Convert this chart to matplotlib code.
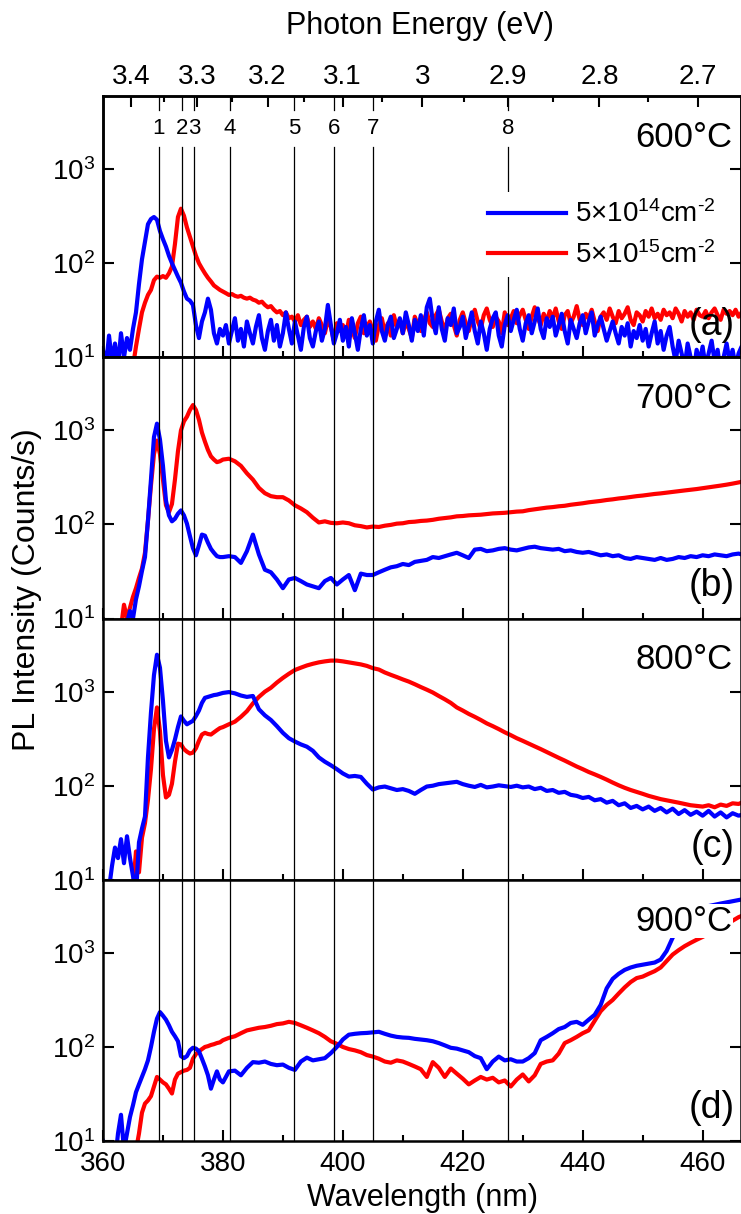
import numpy as np
import matplotlib.pyplot as plt
from matplotlib.ticker import FixedLocator, NullLocator, MultipleLocator
from matplotlib.transforms import blended_transform_factory

plt.rcParams['font.family'] = ['Liberation Sans', 'DejaVu Sans']
plt.rcParams['mathtext.fontset'] = 'custom'
plt.rcParams['mathtext.rm'] = 'Liberation Sans'
plt.rcParams['mathtext.it'] = 'Liberation Sans:italic'
plt.rcParams['mathtext.bf'] = 'Liberation Sans:bold'

HC = 1239.84  # eV nm

# wavelength sampling (nm): 0.5 nm for the noisy 600C scans,
# 0.5 nm below 380 nm and 1 nm above for the others
wl_a = np.arange(360.0, 467.01, 0.5)
wl = np.concatenate([np.arange(360.0, 380.0, 0.5), np.arange(380.0, 467.01, 1.0)])

# ---- 600 C ----
low_600 = [
    12, 8, 17, 9, 14, 8, 18, 10, 16, 12,
    20, 30, 60, 110, 170, 260, 295, 310, 290, 220,
    180, 150, 120, 100, 85, 72, 62, 50, 42, 40,
    36, 22, 16, 24, 30, 42, 32, 18, 14, 20,
    17, 22, 14, 19, 26, 15, 20, 13, 24, 18,
    14, 21, 28, 16, 12, 19, 25, 15, 22, 13,
    18, 30, 20, 14, 24, 17, 12, 21, 27, 16,
    13, 19, 24, 15, 20, 36, 22, 14, 18, 25,
    15, 21, 13, 26, 18, 12, 20, 28, 17, 22,
    14, 24, 32, 19, 15, 22, 27, 16, 20, 26,
    18, 30, 22, 15, 25, 19, 28, 17, 34, 42,
    24, 18, 34, 20, 15, 26, 22, 33, 18, 21,
    27, 16, 22, 30, 19, 14, 24, 18, 12, 20,
    26, 30, 17, 13, 22, 28, 19, 25, 32, 20,
    15, 23, 28, 18, 24, 33, 20, 16, 26, 21,
    27, 17, 22, 29, 19, 14, 25, 20, 16, 23,
    28, 18, 24, 30, 17, 22, 27, 20, 15, 19,
    24, 18, 14, 21, 17, 23, 13, 19, 16, 22,
    15, 20, 13, 18, 24, 14, 19, 12, 17, 21,
    13, 9, 15, 11, 8, 14, 10, 7, 12, 9,
    13, 8, 11, 15, 9, 12, 7, 10, 14, 9,
    12, 8, 11, 13, 10]
high_600 = [
    6, 6, 6, 6, 6, 6, 6, 6, 6, 6,
    8, 13, 20, 30, 38, 46, 52, 66, 72, 70,
    73, 70, 78, 92, 160, 310, 380, 320, 240, 190,
    150, 120, 100, 88, 78, 70, 64, 58, 55, 52,
    50, 48, 46, 47, 45, 44, 45, 43, 42, 43,
    41, 40, 38, 39, 36, 34, 35, 32, 30, 31,
    28, 30, 26, 27, 24, 28, 22, 25, 27, 21,
    24, 20, 26, 22, 18, 25, 21, 15, 23, 19,
    22, 17, 25, 20, 16, 23, 27, 18, 21, 24,
    19, 15, 22, 26, 18, 23, 17, 28, 21, 25,
    18, 24, 20, 16, 27, 22, 19, 25, 30, 23,
    21, 28, 32, 24, 19, 26, 29, 22, 17, 25,
    30, 23, 19, 26, 32, 24, 20, 28, 33, 25,
    21, 27, 24, 18, 30, 22, 26, 31, 23, 28,
    32, 25, 20, 27, 34, 26, 22, 29, 24, 31,
    26, 33, 24, 20, 28, 31, 23, 27, 35, 25,
    22, 29, 26, 32, 24, 19, 27, 30, 25, 33,
    27, 23, 31, 26, 29, 34, 25, 22, 30, 28,
    24, 31, 27, 33, 26, 29, 25, 32, 28, 30,
    26, 33, 29, 24, 31, 27, 30, 25, 32, 28,
    27, 31, 26, 30, 33, 28, 25, 32, 29, 31,
    28, 32, 27, 30, 33]

# ---- 700 C ----
low_700 = [
    6, 6, 6, 6, 6, 6, 6, 6, 9, 12,
    10, 16, 22, 32, 45, 110, 300, 850, 1180, 800,
    420, 180, 125, 108, 115, 130, 141, 125, 102, 75,
    56, 47, 60, 78, 76, 64, 55, 50, 46, 45,
    45, 46, 45, 39, 52, 78, 48, 33, 31, 26,
    21, 26, 27, 25, 23, 22, 21, 25, 27, 23,
    26, 29, 20, 30, 29, 29, 31, 33, 35, 36,
    38, 37, 40, 41, 42, 45, 44, 46, 48, 50,
    47, 44, 54, 55, 52, 53, 55, 56, 54, 53,
    55, 57, 58, 56, 55, 54, 55, 52, 53, 51,
    50, 51, 49, 47, 48, 46, 47, 44, 43, 45,
    44, 43, 42, 44, 42, 43, 45, 44, 46, 45,
    47, 46, 48, 47, 46, 48, 49, 47]
high_700 = [
    6, 6, 6, 6, 6, 6, 8, 14, 10, 13,
    17, 21, 27, 34, 50, 110, 260, 560, 780, 560,
    300, 160, 135, 165, 300, 600, 1000, 1250, 1400, 1650,
    1860, 1650, 1300, 950, 760, 620, 530, 490, 460, 470,
    490, 500, 470, 420, 350, 300, 245, 215, 200, 195,
    195, 180, 160, 148, 135, 118, 105, 108, 104, 103,
    105, 103, 98, 96, 93, 95, 94, 97, 99, 102,
    103, 106, 107, 109, 110, 112, 115, 117, 119, 122,
    123, 125, 126, 127, 129, 131, 132, 133, 135, 137,
    138, 142, 145, 148, 151, 153, 156, 158, 162, 165,
    168, 172, 175, 178, 182, 185, 189, 192, 196, 200,
    203, 207, 211, 214, 218, 222, 226, 230, 234, 238,
    243, 248, 254, 259, 265, 272, 280, 288]

# ---- 800 C ----
low_800 = [
    6, 6, 8, 14, 22, 17, 27, 15, 29, 17,
    11, 7, 25, 35, 47, 200, 600, 1500, 2470, 1800,
    800, 300, 200, 240, 310, 420, 545, 490, 450, 470,
    490, 550, 630, 760, 860, 880, 900, 920, 930, 950,
    970, 990, 960, 910, 880, 900, 650, 560, 500, 430,
    365, 320, 295, 275, 260, 235, 200, 180, 165, 150,
    135, 125, 127, 124, 105, 91, 96, 98, 94, 90,
    92, 88, 82, 90, 98, 100, 104, 106, 108, 110,
    104, 100, 97, 102, 96, 98, 101, 99, 97, 100,
    96, 98, 92, 95, 88, 90, 84, 86, 80, 78,
    74, 76, 70, 72, 66, 69, 62, 65, 58, 61,
    56, 60, 54, 58, 52, 57, 50, 55, 49, 53,
    48, 54, 47, 52, 46, 51, 48, 50]
high_800 = [
    6, 6, 6, 6, 6, 6, 6, 6, 6, 6,
    8, 20, 12, 28, 40, 71, 150, 400, 680, 380,
    130, 75, 80, 105, 180, 280, 275, 245, 230, 220,
    225, 250, 300, 350, 365, 355, 350, 370, 390, 410,
    420, 450, 480, 540, 620, 750, 880, 1000, 1100, 1250,
    1400, 1550, 1700, 1800, 1900, 1980, 2050, 2100, 2140, 2140,
    2100, 2050, 2000, 1950, 1880, 1780, 1720, 1600, 1510, 1430,
    1350, 1280, 1200, 1120, 1050, 980, 900, 830, 760, 680,
    630, 580, 540, 500, 460, 430, 400, 370, 345, 320,
    300, 280, 262, 245, 228, 212, 198, 185, 172, 160,
    150, 140, 132, 124, 116, 108, 101, 95, 90, 86,
    82, 78, 75, 72, 70, 68, 66, 64, 62, 61,
    60, 62, 59, 63, 61, 65, 64, 68]

# ---- 900 C ----
low_900 = [
    10, 8, 6, 6, 6, 12, 19, 8, 12, 18,
    24, 33, 40, 48, 58, 72, 100, 145, 200, 235,
    215, 195, 170, 145, 130, 115, 80, 76, 80, 92,
    98, 96, 90, 75, 62, 50, 36, 45, 55, 45,
    42, 55, 56, 50, 60, 69, 68, 70, 66, 64,
    65, 60, 57, 70, 77, 72, 74, 76, 86, 100,
    120, 135, 138, 140, 141, 143, 145, 138, 132, 128,
    126, 125, 122, 120, 118, 115, 110, 104, 98, 96,
    92, 88, 80, 76, 58, 70, 79, 72, 74, 70,
    70, 76, 86, 118, 128, 140, 155, 163, 180, 185,
    172, 195, 220, 280, 420, 530, 600, 660, 700, 730,
    750, 770, 790, 850, 1050, 1450, 1850, 2200, 2550, 2800,
    3000, 3150, 3250, 3350, 3450, 3550, 3650, 3750]
high_900 = [
    6, 6, 6, 6, 6, 6, 6, 6, 6, 6,
    6, 8, 12, 20, 25, 27, 30, 38, 48, 45,
    42, 40, 36, 32, 45, 52, 54, 56, 57, 60,
    75, 84, 90, 95, 100, 102, 105, 107, 110, 112,
    118, 125, 130, 140, 150, 155, 160, 163, 168, 175,
    178, 185, 180, 170, 160, 150, 140, 128, 115, 108,
    100, 95, 92, 88, 82, 79, 75, 70, 68, 72,
    70, 66, 62, 58, 48, 69, 60, 48, 59, 52,
    46, 40, 44, 48, 45, 47, 42, 44, 38, 45,
    51, 43, 50, 66, 70, 72, 85, 110, 118, 128,
    140, 150, 190, 240, 280, 316, 370, 430, 490, 540,
    560, 600, 640, 700, 820, 960, 1070, 1180, 1280, 1380,
    1480, 1600, 1750, 1900, 2050, 2200, 2400, 2550]

temps = ['600', '700', '800', '900']
letters = ['(a)', '(b)', '(c)', '(d)']
series_low = [low_600, low_700, low_800, low_900]
series_high = [high_600, high_700, high_800, high_900]
grids = [wl_a, wl, wl, wl]

dose_labels = [r'$5{\times}10^{14}$cm$^{\text{-}2}$', r'$5{\times}10^{15}$cm$^{\text{-}2}$']

peak_nm = [369.3, 373.2, 375.2, 381.2, 391.9, 398.6, 405.1, 427.5]
peak_names = ['1', '2', '3', '4', '5', '6', '7', '8']

energy_major = [3.4, 3.3, 3.2, 3.1, 3.0, 2.9, 2.8, 2.7]
energy_major_labels = ['3.4', '3.3', '3.2', '3.1', '3', '2.9', '2.8', '2.7']
energy_minor = [3.35, 3.25, 3.15, 3.05, 2.95, 2.85, 2.75]

W, H = 741, 1214
fig = plt.figure(figsize=(W / 100, H / 100), dpi=100)

x0 = 103
edges = [96, 357.25, 618.5, 879.75, 1141]
XMIN, XMAX = 360, 466.4

axes = []
for i in range(4):
    top, bot = edges[i], edges[i + 1]
    ax = fig.add_axes([x0 / W, 1 - bot / H, 1 - x0 / W, (bot - top) / H])
    axes.append(ax)

    ax.plot(grids[i], series_high[i], color='#ff0000', lw=3, zorder=2)
    ax.plot(grids[i], series_low[i], color='#0000ff', lw=3, zorder=2.1)

    ax.set_yscale('log')
    ax.set_ylim(10, 6000)
    ax.set_xlim(XMIN, XMAX)
    ax.yaxis.set_major_locator(FixedLocator([10, 100, 1000]))
    ax.yaxis.set_minor_locator(NullLocator())
    ax.xaxis.set_major_locator(MultipleLocator(20))
    ax.xaxis.set_minor_locator(MultipleLocator(10))

    ax.tick_params(axis='y', which='major', direction='in', left=True, right=True,
                   length=8, width=1.5, labelsize=20, pad=6)
    ax.tick_params(axis='x', which='major', direction='in', top=False,
                   length=8, width=1.5, labelsize=20, pad=7)
    ax.tick_params(axis='x', which='minor', direction='in', top=False,
                   length=4, width=1.5)
    if i < 3:
        ax.tick_params(axis='x', labelbottom=False)
    for sp in ax.spines.values():
        sp.set_linewidth(1.8)

    # peak markers
    for x in peak_nm:
        if i == 0:
            ax.axvline(x, ymin=0, ymax=0.806, color='k', lw=0.9, zorder=3)
            ax.axvline(x, ymin=0.946, ymax=1, color='k', lw=0.9, zorder=3)
        else:
            ax.axvline(x, color='k', lw=0.9, zorder=3)

    ax.text(0.987, 0.842, temps[i] + '\u00b0C', transform=ax.transAxes,
            ha='right', va='center', fontsize=25, zorder=6,
            bbox=dict(facecolor='white', edgecolor='none', pad=0.5))
    ax.text(0.99, 0.125, letters[i], transform=ax.transAxes,
            ha='right', va='center', fontsize=27, zorder=6)

ax_a = axes[0]
trans = blended_transform_factory(ax_a.transData, ax_a.transAxes)
for x, name in zip(peak_nm, peak_names):
    ax_a.text(x, 0.875, name, transform=trans, ha='center', va='center', fontsize=16)

blue_h, red_h = ax_a.lines[1], ax_a.lines[0]
leg = ax_a.legend([blue_h, red_h], dose_labels, loc='upper left',
                  bbox_to_anchor=(0.59, 0.632), borderaxespad=0, frameon=True,
                  facecolor='white', edgecolor='none', framealpha=1, fontsize=20,
                  handlelength=2.8, handletextpad=0.35, labelspacing=0.45, borderpad=0.3)
leg.set_zorder(7)

# photon energy scale along the top
ax_top = ax_a.twiny()
ax_top.set_xlim(XMIN, XMAX)
ax_top.xaxis.set_major_locator(FixedLocator([HC / e for e in energy_major]))
ax_top.xaxis.set_minor_locator(FixedLocator([HC / e for e in energy_minor]))
ax_top.set_xticklabels(energy_major_labels)
ax_top.tick_params(axis='x', which='major', direction='in', length=8, width=1.5,
                   labelsize=20, pad=4)
ax_top.tick_params(axis='x', which='minor', direction='in', length=4, width=1.5)
for sp in ax_top.spines.values():
    sp.set_linewidth(1.8)

fig.text(420 / W, 1 - 34 / H, 'Photon Energy (eV)', ha='center', va='baseline', fontsize=22)
fig.text(423 / W, 1 - 1206 / H, 'Wavelength (nm)', ha='center', va='baseline', fontsize=22)
fig.text(27 / W, 1 - 590 / H, 'PL Intensity (Counts/s)', ha='center', va='center',
         rotation=90, fontsize=23)

fig.savefig('out.png', dpi=100)
